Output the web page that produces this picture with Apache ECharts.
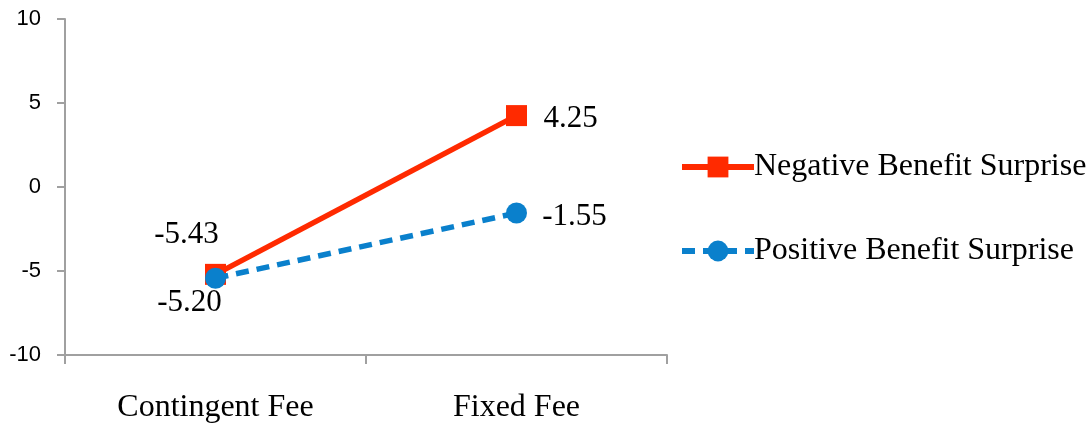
<!DOCTYPE html>
<html>
<head>
<meta charset="utf-8">
<script src="https://cdn.jsdelivr.net/npm/echarts@6/dist/echarts.min.js"></script>
<style>
html,body{margin:0;padding:0;background:#fff;}
#chart{width:1091px;height:424px;}
</style>
</head>
<body>
<div id="chart"></div>
<script>
const categories = ["Contingent Fee", "Fixed Fee"];
const seriesNames = ["Negative Benefit Surprise", "Positive Benefit Surprise"];
const negativeValues = [-5.20, 4.25];
const positiveValues = [-5.43, -1.55];
const negativeLabels = ["-5.43", "4.25"];
const positiveLabels = ["-5.20", "-1.55"];
const yTicks = [-10, -5, 0, 5, 10];

const serif = "'Liberation Serif', 'Times New Roman', serif";
const RED = '#ff2a00';
const BLUE = '#0a80cc';

const negOffsets = [[-29, -40], [54, 3]];
const posOffsets = [[-26, 25], [58, 4]];

function buildData(values, labels, offsets) {
  return values.map((v, i) => ({
    value: v,
    label: {
      show: true,
      position: 'inside',
      offset: offsets[i],
      formatter: () => labels[i],
      fontFamily: serif,
      fontSize: 31,
      color: '#000'
    }
  }));
}

const chart = echarts.init(document.getElementById('chart'));
chart.setOption({
  animation: false,
  backgroundColor: '#fff',
  grid: { left: 65, top: 19, right: 424, bottom: 69, containLabel: false },
  legend: {
    orient: 'vertical',
    left: 674,
    top: 146,
    itemWidth: 72,
    itemHeight: 26,
    itemGap: 52,
    data: seriesNames,
    lineStyle: { width: 6 },
    textStyle: { fontFamily: serif, fontSize: 32, color: '#000', lineHeight: 32, padding: [0, 0, 0, -5] }
  },
  xAxis: {
    type: 'category',
    data: categories,
    boundaryGap: true,
    axisLine: { onZero: false, lineStyle: { color: '#a0a0a0', width: 2 } },
    axisTick: { show: true, length: 9, lineStyle: { color: '#a0a0a0', width: 2 } },
    axisLabel: { fontFamily: serif, fontSize: 32, color: '#000', margin: 37 },
    splitLine: { show: false }
  },
  yAxis: {
    type: 'value',
    min: yTicks[0],
    max: yTicks[yTicks.length - 1],
    interval: 5,
    axisLine: { show: true, lineStyle: { color: '#a0a0a0', width: 2 } },
    axisTick: { show: true, length: 8, lineStyle: { color: '#a0a0a0', width: 2 } },
    axisLabel: { fontFamily: "'Liberation Sans', Arial, sans-serif", fontSize: 22, color: '#000', margin: 24 },
    splitLine: { show: false }
  },
  series: [
    {
      name: seriesNames[0],
      type: 'line',
      data: buildData(negativeValues, negativeLabels, negOffsets),
      symbol: 'rect',
      symbolSize: 21,
      color: RED,
      lineStyle: { color: RED, width: 5.5, type: 'solid' },
      itemStyle: { color: RED },
      z: 2
    },
    {
      name: seriesNames[1],
      type: 'line',
      data: buildData(positiveValues, positiveLabels, posOffsets),
      symbol: 'circle',
      symbolSize: 21,
      color: BLUE,
      lineStyle: { color: BLUE, width: 5.5, type: [13, 8] },
      itemStyle: { color: BLUE },
      z: 3
    }
  ]
});
</script>
</body>
</html>
